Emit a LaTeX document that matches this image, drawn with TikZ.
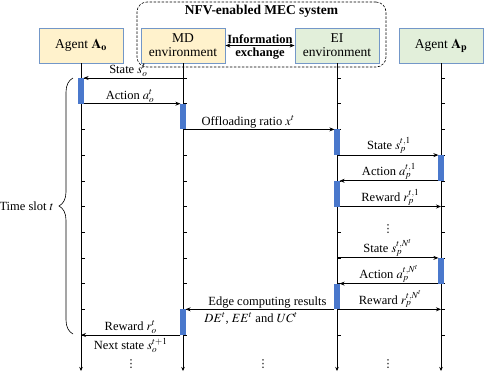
\documentclass[tikz,border=0pt]{standalone}
\usepackage{mathptmx}
\usepackage{fontspec}
\setmainfont{Liberation Serif}
\newfontfamily\dotsfont{DejaVu Sans}
\usetikzlibrary{arrows.meta,decorations.pathreplacing}
\definecolor{boxY}{HTML}{FFF2CC}
\definecolor{boxG}{HTML}{E2EFDA}
\definecolor{boxB}{HTML}{7397C8}
\definecolor{actB}{HTML}{4A78CC}
\begin{document}
\begin{tikzpicture}[x=1pt,y=-1pt,
  actor/.style={draw=boxB, line width=0.8pt, minimum width=84pt, minimum height=35pt,
    align=center, font=\fontsize{13.5}{14}\selectfont, inner sep=1pt},
  msg/.style={line width=1pt, -{Stealth[length=5pt,width=4pt]}},
  lifeline/.style={line width=0.6pt, -{Stealth[length=4pt,width=3.5pt]}},
  actbar/.style={fill=actB, draw=none},
  lbl/.style={font=\fontsize{12.5}{13}\selectfont, inner sep=1pt},
  dotsl/.style={font=\dotsfont\fontsize{11}{11}\selectfont, inner sep=0pt},
  tickmark/.style={line width=0.5pt},
  sysbox/.style={draw, line width=0.6pt, dash pattern=on 2.5pt off 1.5pt, rounded corners=10pt,
    minimum width=249pt, minimum height=65pt, inner sep=0pt},
  bold/.style={font=\bfseries\fontsize{12.5}{13}\selectfont, inner sep=1pt}]
\useasboundingbox (0,0) rectangle (485,373);

% system box
\node[sysbox] (sys) at (261.5,34.5) {};
\node[bold, font=\bfseries\fontsize{13.5}{14}\selectfont, below=2pt] (systitle) at (sys.north) {NFV-enabled MEC system};

% actors
\node[actor, fill=boxY] (ao) at (81,45.5) {Agent $\mathbf{A_o}$};
\node[actor, fill=boxY] (md) at (183,45.5) {MD\\environment};
\node[actor, fill=boxG] (ei) at (337,45.5) {EI\\environment};
\node[actor, fill=boxG] (ap) at (441,45.5) {Agent $\mathbf{A_p}$};

% information exchange
\draw[line width=1pt, {Stealth[length=5pt,width=4pt]}-{Stealth[length=5pt,width=4pt]}] (md.east) -- (ei.west)
  node[midway, above=0.5pt, bold] {Information}
  node[midway, below=0.5pt, bold] {exchange};

% lifelines
\foreach \n in {ao,md,ei,ap}{
  \coordinate (\n-end) at (\n.south |- 0,371);
  \draw[lifeline] (\n.south) -- (\n-end);
  \foreach \k in {0,...,10}{
    \coordinate (\n-\k) at (\n.south |- 0,{78+25.7*\k});
    \draw[tickmark] (\n-\k) -- ++(4,0);
  }
}

% activation bars
\foreach \n/\a/\b in {ao/0/1, md/1/2, ei/2/3, ap/3/4, ei/4/5, ap/7/8, ei/8/9, md/9/10}{
  \fill[actbar] ([xshift=-2.6pt]\n-\a) rectangle ([xshift=2.6pt]\n-\b);
}

% messages
\draw[msg] (md-0) -- ([xshift=2.6pt]ao-0) node[lbl, pos=0.55, above] {State $s_o^t$};
\draw[msg] ([xshift=2.6pt]ao-1) -- ([xshift=-2.6pt]md-1) node[lbl, pos=0.48, above] {Action $a_o^t$};
\draw[msg] ([xshift=2.6pt]md-2) -- ([xshift=-2.6pt]ei-2) node[lbl, pos=0.42, above] {Offloading ratio $x^t$};
\draw[msg] ([xshift=2.6pt]ei-3) -- ([xshift=-2.6pt]ap-3) node[lbl, midway, above] {State $s_p^{t,1}$};
\draw[msg] ([xshift=-2.6pt]ap-4) -- ([xshift=2.6pt]ei-4) node[lbl, midway, above] {Action $a_p^{t,1}$};
\draw[msg] ([xshift=2.6pt]ei-5) -- (ap-5) node[lbl, midway, above] {Reward $r_p^{t,1}$};
\node[dotsl] (dots1) at (388,229) {⋮};
\draw[msg] (ei-7) -- ([xshift=-2.6pt]ap-7) node[lbl, midway, above] {State $s_p^{t,N^t}$};
\draw[msg] ([xshift=-2.6pt]ap-8) -- ([xshift=2.6pt]ei-8) node[lbl, midway, above] {Action $a_p^{t,N^t}$};
\draw[msg] ([xshift=2.6pt]ei-9) -- (ap-9) node[lbl, midway, above] {Reward $r_p^{t,N^t}$};
\draw[msg] ([xshift=-2.6pt]ei-9) -- ([xshift=2.6pt]md-9)
  node[lbl, pos=0.45, above] {Edge computing results}
  node[lbl, pos=0.56, below=2pt] {$DE^t$, $EE^t$ and $UC^t$};
\draw[msg] ([xshift=-2.6pt]md-10) -- (ao-10)
  node[lbl, midway, above] {Reward $r_o^t$}
  node[lbl, midway, below=2pt] {Next state $s_o^{t+1}$};

% bottom dots
\node[dotsl] (dots2) at (131,364) {⋮};
\node[dotsl] (dots3) at (263,364) {⋮};
\node[dotsl] (dots4) at (388,364) {⋮};

% time slot brace
\coordinate (brb) at (73,334);
\coordinate (brt) at (73,78);
\draw[line width=0.6pt, decorate, decoration={brace, amplitude=14pt}] (brb) -- (brt);
\node[lbl, anchor=east] (tslot) at (55,206) {Time slot $t$};
\end{tikzpicture}
\end{document}
